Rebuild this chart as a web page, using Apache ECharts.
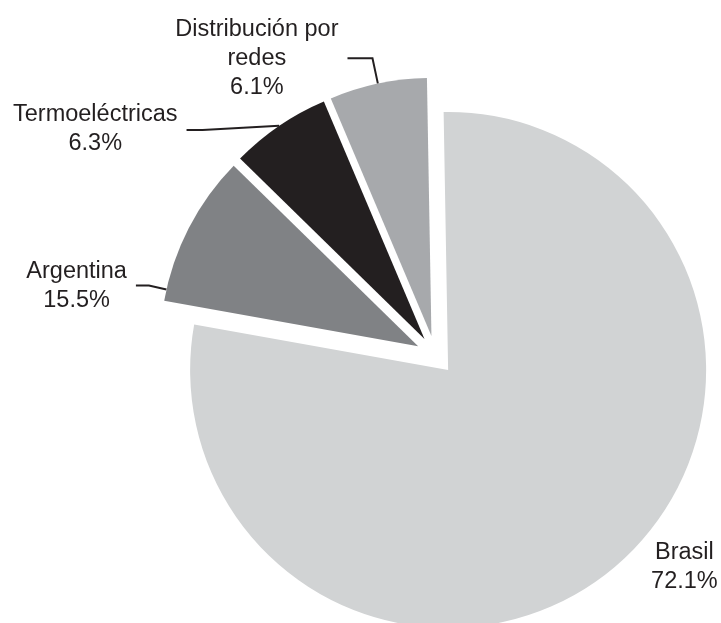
<!DOCTYPE html>
<html>
<head>
<meta charset="utf-8">
<script src="https://cdn.jsdelivr.net/npm/echarts@6/dist/echarts.min.js"></script>
<style>
html, body { margin: 0; padding: 0; background: #ffffff; }
#chart { width: 721px; height: 623px; }
</style>
</head>
<body>
<div id="chart"></div>
<script>
// Categories (label names, with the line breaks used in the picture)
const categories = ['Brasil', 'Argentina', 'Termoeléctricas', 'Distribución por\nredes'];
// Slice sizes as they are drawn in the picture (angles)
const sliceShares = [78.1, 9.5, 6.3, 6.1];
// Percentages as printed on the picture's labels
const printedPercents = ['72.1%', '15.5%', '6.3%', '6.1%'];

// ---- styling / layout (kept apart from data) ----
const sliceColors = ['#d1d3d4', '#808285', '#231f20', '#a7a9ac'];
const guideLengths = [[1, 26], [1, 13], [1, 92], [26, 25]];
const showGuide = [false, true, true, true];
const labelShift = {
  1: { dx: -39, dy: 58, rebuild: 'nearest', lineDy: 58, stub: 13 },
  2: { dx: 0, dy: 4, rebuild: 'keep', lineDy: 5, stub: 16 }
};
const START_ANGLE = 91;
const RADIUS = 258;
const textColor = '#231f20';
const fontFamily = '"Liberation Sans", Arial, Helvetica, sans-serif';

const total = sliceShares.reduce((a, b) => a + b, 0);
function midAngleRad(idx) {
  let cum = 0;
  for (let i = 0; i < idx; i++) cum += sliceShares[i];
  const deg = START_ANGLE - 360 * (cum + sliceShares[idx] / 2) / total;
  return deg * Math.PI / 180;
}

const chart = echarts.init(document.getElementById('chart'), null, { renderer: 'canvas' });

const data = categories.map((name, i) => ({
  name: name,
  value: sliceShares[i],
  selected: true,
  itemStyle: { color: sliceColors[i] },
  label: {
    formatter: name.split('\n').concat([printedPercents[i]]).map(s => '{t|' + s + '}').join('\n')
  },
  labelLine: {
    show: showGuide[i],
    length: guideLengths[i][0],
    length2: guideLengths[i][1]
  }
}));

chart.setOption({
  animation: false,
  backgroundColor: '#ffffff',
  series: [{
    type: 'pie',
    center: ['60.4%', '57%'],
    radius: RADIUS,
    startAngle: START_ANGLE,
    clockwise: true,
    selectedMode: 'multiple',
    selectedOffset: 19.5,
    avoidLabelOverlap: false,
    silent: true,
    itemStyle: { borderWidth: 0 },
    select: { itemStyle: { borderWidth: 0 } },
    emphasis: { disabled: true },
    label: {
      show: true,
      position: 'outside',
      distanceToLabelLine: 9,
      color: textColor,
      fontFamily: fontFamily,
      fontSize: 23.5,
      lineHeight: 29,
      rich: {
        t: { align: 'center', color: textColor, fontFamily: fontFamily, fontSize: 23.5, lineHeight: 29 }
      }
    },
    labelLine: {
      show: true,
      smooth: false,
      minTurnAngle: 0,
      maxSurfaceAngle: 180,
      lineStyle: { color: textColor, width: 2 }
    },
    labelLayout: function (params) {
      const s = labelShift[params.dataIndex];
      if (!s) return {};
      const out = { dx: s.dx, dy: s.dy };
      const pts = params.labelLinePoints;
      if (s.rebuild && pts) {
        const endX = pts[2][0] + s.dx;
        const endY = pts[2][1] + s.lineDy;
        const midX = endX + s.stub;
        let anchor = pts[0];
        if (s.rebuild === 'nearest') {
          // slice centre recovered from the library's anchor on the arc
          const a = midAngleRad(params.dataIndex);
          const cx = pts[0][0] - RADIUS * Math.cos(a);
          const cy = pts[0][1] + RADIUS * Math.sin(a);
          const vx = midX - cx, vy = endY - cy;
          const len = Math.sqrt(vx * vx + vy * vy);
          anchor = [cx + vx / len * RADIUS, cy + vy / len * RADIUS];
        }
        out.labelLinePoints = [anchor, [midX, endY], [endX, endY]];
      }
      return out;
    },
    data: data
  }]
});
</script>
</body>
</html>
